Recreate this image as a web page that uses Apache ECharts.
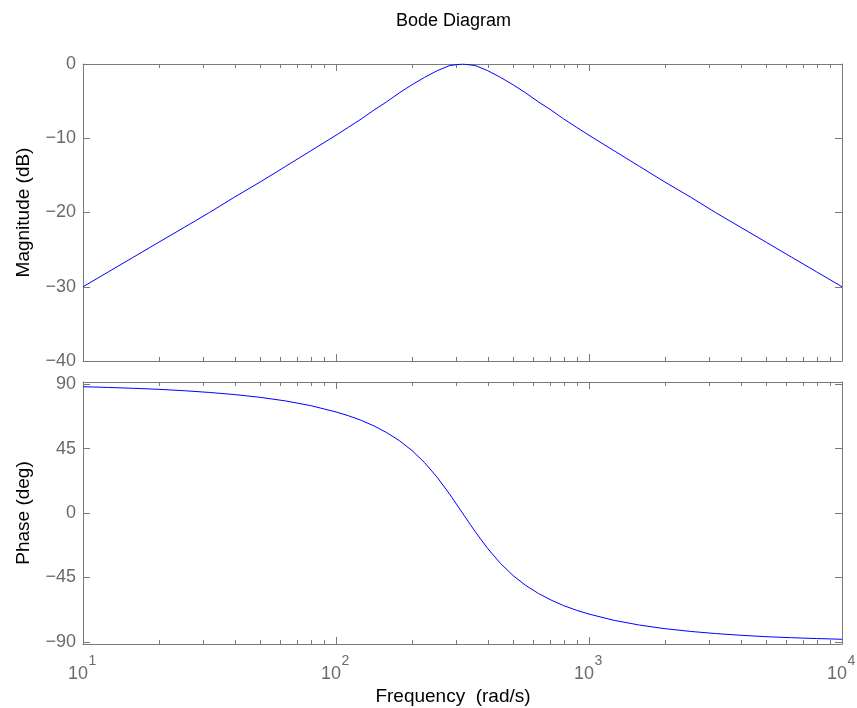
<!DOCTYPE html>
<html><head><meta charset="utf-8">
<script src="https://cdn.jsdelivr.net/npm/echarts@6/dist/echarts.min.js"></script>
<style>html,body{margin:0;padding:0;background:#fff}#c{width:857px;height:708px}</style>
</head><body><div id="c"></div>
<script>
// ---- data ----
const freq = [10, 12.59, 15.85, 19.95, 25.12, 31.62, 39.81, 50.12, 63.10, 79.43,
  100, 112.2, 125.9, 141.3, 158.5, 177.8, 199.5, 223.9, 251.2, 281.8,
  316.2, 354.8, 398.1, 446.7, 501.2, 562.3, 631.0, 707.9, 794.3, 891.3,
  1000, 1259, 1585, 1995, 2512, 3162, 3981, 5012, 6310, 7943, 10000];
const magnitudeDb = [-30.0, -28.0, -26.0, -24.0, -22.0, -20.0, -17.9, -15.9, -13.8, -11.7,
  -9.6, -8.5, -7.4, -6.2, -5.1, -3.9, -2.8, -1.8, -0.9, -0.2,
  0, -0.2, -0.9, -1.8, -2.8, -3.9, -5.1, -6.2, -7.4, -8.5,
  -9.6, -11.7, -13.8, -15.9, -17.9, -20.0, -22.0, -24.0, -26.0, -28.0, -30.0];
const phaseDeg = [88.2, 87.7, 87.1, 86.4, 85.4, 84.2, 82.7, 80.8, 78.3, 75.0,
  70.6, 67.9, 64.7, 60.8, 56.2, 50.6, 43.7, 35.2, 24.9, 13.0,
  0, -13.0, -24.9, -35.2, -43.7, -50.6, -56.2, -60.8, -64.7, -67.9,
  -70.6, -75.0, -78.3, -80.8, -82.7, -84.2, -85.4, -86.4, -87.1, -87.7, -88.2];
const freqMajorTicks = [10, 100, 1000, 10000];
const freqMinorTicks = [20, 30, 40, 50, 60, 70, 80, 90, 200, 300, 400, 500, 600, 700, 800, 900,
  2000, 3000, 4000, 5000, 6000, 7000, 8000, 9000];
const phaseTicks = [-90, -45, 0, 45, 90];

// ---- styling ----
const FONT = 'Liberation Sans, Arial, Helvetica, sans-serif';
const AX = '#7a7a7a';
const LC = '#6a6a6a';
const minus = v => (v < 0 ? '\u2212' + Math.abs(v) : String(v));

function xAxes(gridIndex, withLabels) {
  const base = {
    type: 'log', logBase: 10, min: 10, max: 10000, gridIndex: gridIndex, offset: 0,
    splitLine: { show: false }, minorTick: { show: false }, minorSplitLine: { show: false }
  };
  const major = (pos, label) => Object.assign({}, base, {
    position: pos,
    axisLine: { show: true, onZero: false, lineStyle: { color: AX, width: 1 } },
    axisTick: { show: true, inside: true, length: 7, customValues: freqMajorTicks, lineStyle: { color: AX, width: 1 } },
    axisLabel: label
  });
  const minor = (pos, label) => Object.assign({}, base, {
    position: pos,
    axisLine: { show: false, onZero: false },
    axisTick: { show: true, inside: true, length: 4, customValues: freqMinorTicks, lineStyle: { color: AX, width: 1 } },
    axisLabel: label
  });
  // mantissa "10" under each decade
  const baseLabel = withLabels ? {
    show: true, customValues: freqMajorTicks, margin: 21, color: LC, fontSize: 18, fontFamily: FONT,
    padding: [0, 10, 0, 0],
    formatter: () => '10'
  } : { show: false };
  // exponent, raised and to the right of "10"
  const expLabel = withLabels ? {
    show: true, customValues: freqMajorTicks, margin: 10.5, color: LC, fontSize: 14, fontFamily: FONT,
    padding: [0, 0, 0, 19],
    formatter: v => String(Math.round(Math.log10(v)))
  } : { show: false };
  const bottomMajor = major('bottom', baseLabel);
  if (withLabels) {
    bottomMajor.name = 'Frequency  (rad/s)';
    bottomMajor.nameLocation = 'middle';
    bottomMajor.nameGap = 43;
    bottomMajor.nameTextStyle = { color: '#000', fontSize: 19, fontFamily: FONT, padding: [0, 19, 0, 0] };
  }
  return [bottomMajor, minor('bottom', expLabel), major('top', { show: false }), minor('top', { show: false })];
}

function yAxes(gridIndex, opts) {
  const common = Object.assign({ type: 'value', gridIndex: gridIndex, offset: 0, splitLine: { show: false } }, opts.range);
  const left = Object.assign({}, common, {
    position: 'left',
    name: opts.name, nameLocation: 'middle', nameGap: 50,
    nameTextStyle: { color: '#000', fontSize: 19, fontFamily: FONT },
    axisLine: { show: true, onZero: false, lineStyle: { color: AX, width: 1 } },
    axisTick: Object.assign({ show: true, inside: true, length: 7, lineStyle: { color: AX, width: 1 } }, opts.tickExtra),
    axisLabel: Object.assign({ show: true, margin: 7, color: LC, fontSize: 18, fontFamily: FONT, formatter: minus }, opts.labelExtra)
  });
  const right = Object.assign({}, common, {
    position: 'right',
    axisLine: { show: true, onZero: false, lineStyle: { color: AX, width: 1 } },
    axisTick: Object.assign({ show: true, inside: true, length: 7, lineStyle: { color: AX, width: 1 } }, opts.tickExtra),
    axisLabel: { show: false }
  });
  return [left, right];
}

const chart = echarts.init(document.getElementById('c'), null, { renderer: 'canvas' });
const option = {
  animation: false,
  backgroundColor: '#fff',
  title: {
    text: 'Bode Diagram', left: 396, top: 12, padding: 0,
    textStyle: { fontSize: 18, fontWeight: 'normal', color: '#000', fontFamily: FONT }
  },
  grid: [
    { left: 83, right: 15, top: 64, height: 297, containLabel: false, outerBoundsMode: 'none' },
    { left: 83, right: 15, top: 382, height: 262, containLabel: false, outerBoundsMode: 'none' }
  ],
  xAxis: [].concat(xAxes(0, false), xAxes(1, true)),
  yAxis: [].concat(
    yAxes(0, { name: 'Magnitude (dB)', range: { min: -40, max: 0, interval: 10 } }),
    yAxes(1, {
      name: 'Phase (deg)', range: { min: -91.5, max: 91.5 },
      tickExtra: { customValues: phaseTicks }, labelExtra: { customValues: phaseTicks }
    })
  ),
  series: [
    {
      type: 'line', xAxisIndex: 0, yAxisIndex: 0, showSymbol: false, symbol: 'none',
      lineStyle: { color: '#0000ff', width: 1 }, itemStyle: { color: '#0000ff' },
      data: freq.map((f, i) => [f, magnitudeDb[i]])
    },
    {
      type: 'line', xAxisIndex: 4, yAxisIndex: 2, showSymbol: false, symbol: 'none',
      lineStyle: { color: '#0000ff', width: 1 }, itemStyle: { color: '#0000ff' },
      data: freq.map((f, i) => [f, phaseDeg[i]])
    }
  ]
};
chart.setOption(option);
</script>
</body></html>
